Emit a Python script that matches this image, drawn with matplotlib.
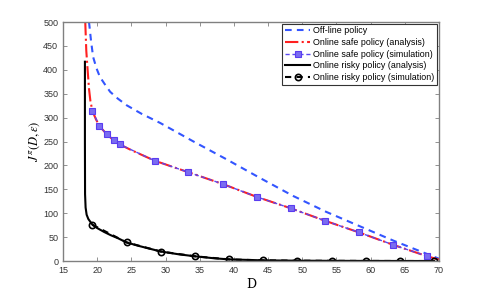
import matplotlib
matplotlib.use('Agg')
import matplotlib.pyplot as plt

plt.rcParams['mathtext.fontset'] = 'stix'
plt.rcParams['font.family'] = ['Liberation Sans', 'DejaVu Sans']

# off-line policy
off_D = [18.8, 19.1, 19.4, 19.9, 20.4, 21.2, 21.9, 23.0, 24.3, 26.5, 29.2,
         34.1, 38.9, 43.8, 48.7, 53.5, 58.4, 63.3, 67.0, 70.0]
off_J = [500, 460, 427, 403, 385, 368, 354, 340, 326, 308, 289,
         250, 213, 174, 136, 103, 73, 43, 22, 5]

# online safe policy (analysis)
safe_D = [18.25, 18.4, 18.6, 18.8, 19.0, 19.3, 19.8, 20.3, 21.4, 22.4, 23.3,
          25.0, 28.4, 33.3, 38.4, 43.4, 48.4, 53.4, 58.3, 63.3, 68.3, 70.0]
safe_J = [500, 440, 399, 360, 335, 314, 297, 283, 265, 253, 244,
          232, 210, 186, 161, 134, 110, 84, 60, 34, 10, 3]

# online safe policy (simulation)
safe_sim_D = [19.3, 20.3, 21.4, 22.4, 23.3, 28.4, 33.3, 38.4, 43.4, 48.4, 53.4, 58.3, 63.3, 68.3]
safe_sim_J = [314, 283, 265, 253, 244, 210, 186, 161, 134, 110, 84, 60, 34, 10]

# online risky policy (analysis)
risky_D = [18.2, 18.2, 18.22, 18.3, 18.45, 18.7, 19.3, 20.0, 21.0, 22.0, 23.0, 24.3,
           26.0, 29.3, 32.0, 34.3, 37.0, 39.3, 44.3, 49.3, 54.3, 59.3, 64.3, 69.3]
risky_J = [417, 250, 140, 112, 97, 88, 76, 69, 61, 54, 48, 39,
           32, 20, 14, 10, 6, 3.5, 1.5, 0.8, 0.5, 0.3, 0.2, 0.1]

# online risky policy (simulation)
risky_sim_D = [19.3, 24.3, 29.3, 34.3, 39.3, 44.3, 49.3, 54.3, 59.3, 64.3, 69.3]
risky_sim_J = [76, 39, 20, 10, 3.5, 1.5, 0.8, 0.5, 0.3, 0.2, 0.1]

fig = plt.figure(figsize=(4.85, 2.94), dpi=100)
ax = fig.add_axes([0.130, 0.112, 0.775, 0.813])

ax.plot(off_D, off_J, '--', color='#3355ff', lw=1.5, dashes=(3.2, 2.5), label='Off-line policy')
ax.plot(safe_D, safe_J, '-.', color='#ff2020', lw=1.5, label='Online safe policy (analysis)')
ax.plot(safe_sim_D, safe_sim_J, '--', color='#5a48f0', lw=1.0, dashes=(3, 2),
        marker='s', ms=4, mfc='#7a6cf0', mec='#5a3cf0', mew=0.8,
        label='Online safe policy (simulation)')
ax.plot(risky_D, risky_J, '-', color='black', lw=1.5, label='Online risky policy (analysis)')
ax.plot(risky_sim_D, risky_sim_J, '--', color='black', lw=1.5, dashes=(3, 2.5),
        marker='o', ms=4.5, mfc='none', mec='black', mew=1.2,
        label='Online risky policy (simulation)')

ax.set_xlim(15, 70)
ax.set_ylim(0, 500)
ax.set_xticks(range(15, 71, 5))
ax.set_yticks(range(0, 501, 50))
ax.tick_params(direction='in', top=True, right=True, labelsize=6.5,
               colors='#808080', labelcolor='#333333', length=3, width=0.6)
for s in ax.spines.values():
    s.set_color('#808080')
    s.set_linewidth(1.0)

ax.set_xlabel('D', family='serif', fontsize=9, labelpad=2)
ax.set_ylabel(r'$J^{\pi}(D,\varepsilon)$', fontsize=9, labelpad=1)

leg = ax.legend(loc='upper right', bbox_to_anchor=(0.995, 0.993), fontsize=6.4,
                handlelength=2.9, labelspacing=0.3, borderpad=0.3,
                handletextpad=0.3, borderaxespad=0.0, fancybox=False, framealpha=1)
leg.get_frame().set_edgecolor('#333333')
leg.get_frame().set_linewidth(0.8)

fig.savefig('out.png', dpi=100)
